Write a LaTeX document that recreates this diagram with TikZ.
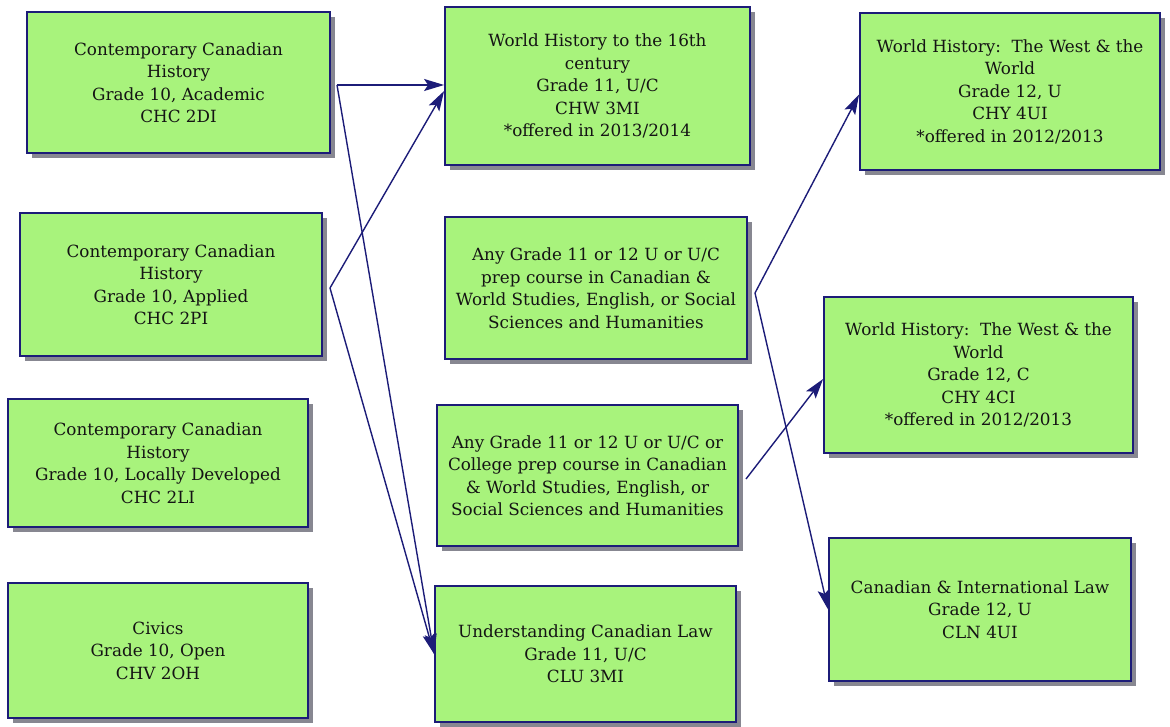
\documentclass[tikz,border=0pt]{standalone}
\usepackage{fontspec}
\setmainfont{DejaVu Serif}
\usetikzlibrary{arrows.meta,shadows}
\definecolor{boxgreen}{RGB}{168,243,124}
\definecolor{navy}{RGB}{28,28,120}
\definecolor{shadowgray}{RGB}{135,135,145}
\definecolor{txt}{RGB}{20,20,20}
\tikzset{
  course/.style={draw=navy, line width=1.8pt, fill=boxgreen, align=center, inner sep=0pt,
    text=txt, font=\fontsize{16.8}{22.5}\selectfont,
    drop shadow={shadow xshift=5pt, shadow yshift=-5pt, fill=shadowgray, opacity=1}},
  conn/.style={draw=navy, line width=1.4pt, -{Stealth[length=20pt,width=12pt,inset=4pt]}}
}
\begin{document}
\begin{tikzpicture}[x=1pt,y=-1pt]
\useasboundingbox[fill=white] (0,0) rectangle (1170,727);
% left column
\node[course, minimum width=303pt, minimum height=141pt] (a) at (178.5,82.5)
  {Contemporary Canadian\\History\\Grade 10, Academic\\CHC 2DI};
\node[course, minimum width=302pt, minimum height=143pt] (b) at (171,284.5)
  {Contemporary Canadian\\History\\Grade 10, Applied\\CHC 2PI};
\node[course, minimum width=300pt, minimum height=128pt] (c) at (158,463)
  {Contemporary Canadian\\History\\Grade 10, Locally Developed\\CHC 2LI};
\node[course, minimum width=300pt, minimum height=135pt] (d) at (158,650.5)
  {Civics\\Grade 10, Open\\CHV 2OH};
% middle column
\node[course, minimum width=305pt, minimum height=158pt] (e) at (597.5,86)
  {World History to the 16th\\century\\Grade 11, U/C\\CHW 3MI\\*offered in 2013/2014};
\node[course, minimum width=302pt, minimum height=142pt] (f) at (596,288)
  {Any Grade 11 or 12 U or U/C\\prep course in Canadian \&\\World Studies, English, or Social\\Sciences and Humanities};
\node[course, minimum width=301pt, minimum height=141pt] (g) at (587.5,475.5)
  {Any Grade 11 or 12 U or U/C or\\College prep course in Canadian\\\& World Studies, English, or\\Social Sciences and Humanities};
\node[course, minimum width=301pt, minimum height=136pt] (h) at (585.5,654)
  {Understanding Canadian Law\\Grade 11, U/C\\CLU 3MI};
% right column
\node[course, minimum width=300pt, minimum height=157pt] (i) at (1010,91.5)
  {World History:\ \ The West \& the\\World\\Grade 12, U\\CHY 4UI\\*offered in 2012/2013};
\node[course, minimum width=309pt, minimum height=156pt] (j) at (978.5,375)
  {World History:\ \ The West \& the\\World\\Grade 12, C\\CHY 4CI\\*offered in 2012/2013};
\node[course, minimum width=302pt, minimum height=143pt] (k) at (980,609.5)
  {Canadian \& International Law\\Grade 12, U\\CLN 4UI};
% junctions
\coordinate (ja) at (337,85);
\coordinate (jb) at (330,288);
\coordinate (jf) at (755,293);
\coordinate (jg) at (746,479);
% connectors
\draw[conn] (ja) -- ([yshift=1pt]e.west);
\draw[conn] (ja) -- (h.west);
\draw[conn] (jb) -- ([yshift=-5pt]e.west);
\draw[conn] (jb) -- (h.west);
\draw[conn] (jf) -- ([yshift=-3pt]i.west);
\draw[conn] (jf) -- (k.west);
\draw[conn] (jg) -- ([yshift=-4pt]j.west);
\end{tikzpicture}
\end{document}
